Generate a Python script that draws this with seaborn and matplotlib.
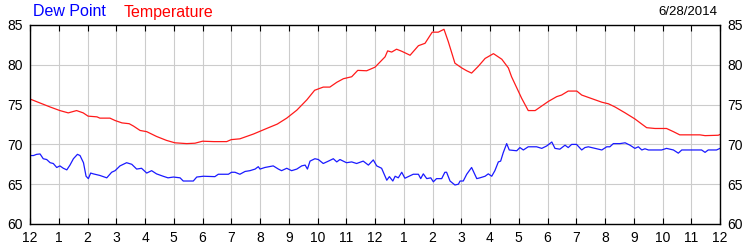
import matplotlib
matplotlib.use("Agg")
import matplotlib.pyplot as plt
import seaborn as sns
import pandas as pd

temp_hours = [0.0, 0.35, 0.7, 1.04, 1.33, 1.62, 1.85, 2.02, 2.33, 2.43, 2.78, 2.96, 3.2, 3.45,
              3.6, 3.83, 4.06, 4.4, 4.75, 5.04, 5.45, 5.74, 6.0, 6.4, 6.84, 7.0, 7.3, 7.77,
              8.23, 8.6, 8.93, 9.28, 9.63, 9.9, 10.2, 10.43, 10.67, 10.9, 11.19, 11.4, 11.71,
              12.0, 12.35, 12.44, 12.58, 12.75, 12.93, 13.22, 13.51, 13.74, 13.99, 14.2, 14.4,
              14.55, 14.78, 15.02, 15.19, 15.36, 15.59, 15.83, 16.12, 16.41, 16.64, 16.75,
              17.1, 17.33, 17.57, 18.03, 18.32, 18.49, 18.72, 19.02, 19.19, 19.54, 19.89,
              20.12, 20.35, 20.7, 21.04, 21.28, 21.45, 21.74, 22.14, 22.38, 22.6, 23.3, 23.48,
              23.94, 24.0]
temp_values = [75.7, 75.2, 74.7, 74.25, 73.96, 74.25, 73.96, 73.55, 73.46, 73.3, 73.3, 73.0, 72.7, 72.6,
               72.3, 71.75, 71.6, 71.0, 70.5, 70.2, 70.1, 70.15, 70.4, 70.35, 70.35, 70.6, 70.7, 71.3,
               72.0, 72.55, 73.3, 74.3, 75.6, 76.8, 77.2, 77.2, 77.8, 78.25, 78.5, 79.3, 79.25,
               79.7, 81.0, 81.75, 81.6, 81.96, 81.7, 81.2, 82.4, 82.7, 84.1, 84.1, 84.46,
               82.9, 80.2, 79.6, 79.25, 78.96, 79.8, 80.8, 81.4, 80.7, 79.6, 78.5,
               75.8, 74.25, 74.25, 75.4, 76.0, 76.2, 76.7, 76.7, 76.2, 75.75, 75.3,
               75.1, 74.7, 73.96, 73.2, 72.55, 72.1, 72.0, 72.0, 71.6, 71.2, 71.2, 71.1,
               71.15, 71.25]

dew_hours = [0.0, 0.12, 0.23, 0.35, 0.46, 0.58, 0.7, 0.81, 0.93, 1.04, 1.16, 1.28, 1.39, 1.51,
             1.65, 1.74, 1.86, 1.95, 2.03, 2.11, 2.2, 2.43, 2.67, 2.84, 2.96, 3.13, 3.36, 3.54,
             3.71, 3.88, 4.06, 4.23, 4.4, 4.63, 4.8, 4.99, 5.22, 5.33, 5.68, 5.8, 6.03, 6.43,
             6.55, 6.9, 7.01, 7.13, 7.3, 7.48, 7.65, 7.83, 7.94, 8.0, 8.17, 8.46, 8.64, 8.75,
             8.93, 9.1, 9.28, 9.45, 9.57, 9.65, 9.74, 9.91, 10.03, 10.2, 10.38, 10.55, 10.67,
             10.78, 11.01, 11.19, 11.36, 11.59, 11.77, 11.94, 12.06, 12.23, 12.41, 12.5, 12.62,
             12.7, 12.81, 12.93, 13.04, 13.33, 13.51, 13.59, 13.68, 13.8, 13.94, 14.03, 14.14,
             14.32, 14.43, 14.49, 14.61, 14.78, 14.9, 14.96, 15.07, 15.19, 15.36, 15.54, 15.65,
             15.83, 15.94, 16.06, 16.17, 16.29, 16.37, 16.46, 16.58, 16.67, 16.93, 17.04, 17.16,
             17.33, 17.62, 17.8, 17.97, 18.15, 18.26, 18.43, 18.61, 18.72, 18.84, 19.01, 19.19,
             19.3, 19.42, 19.65, 19.89, 20.06, 20.17, 20.29, 20.52, 20.7, 20.87, 21.04, 21.16,
             21.28, 21.39, 21.51, 21.97, 22.14, 22.38, 22.55, 22.67, 23.36, 23.48, 23.59, 23.88,
             24.0]
dew_values = [68.6, 68.6, 68.75, 68.8, 68.2, 68.1, 67.7, 67.6, 67.1, 67.3, 67.0, 66.8, 67.4, 68.2,
              68.75, 68.6, 67.7, 66.0, 65.7, 66.4, 66.3, 66.1, 65.8, 66.5, 66.7, 67.3, 67.7, 67.5,
              66.9, 67.0, 66.4, 66.7, 66.3, 66.0, 65.8, 65.9, 65.8, 65.4, 65.4, 65.9, 66.0, 65.95,
              66.25, 66.25, 66.5, 66.5, 66.25, 66.6, 66.7, 66.9, 67.2, 66.9, 67.1, 67.3, 66.9, 66.7,
              67.0, 66.7, 66.9, 67.3, 67.4, 66.9, 67.9, 68.2, 68.1, 67.6, 67.9, 68.2, 67.8,
              68.1, 67.7, 67.8, 67.6, 67.9, 67.4, 68.05, 67.3, 67.0, 65.5, 65.95, 65.4,
              66.0, 65.8, 66.5, 65.75, 66.25, 66.25, 65.7, 66.3, 65.7, 65.8, 65.3, 65.7,
              65.7, 66.5, 66.5, 65.4, 64.9, 65.0, 65.4, 65.4, 66.25, 67.1, 65.7, 65.8,
              66.0, 66.3, 66.0, 66.7, 67.8, 67.9, 68.95, 70.1, 69.3, 69.2, 69.6, 69.3,
              69.7, 69.7, 69.5, 69.8, 70.3, 69.5, 69.4, 69.9, 69.6, 70.0, 70.0, 69.3,
              69.6, 69.7, 69.5, 69.3, 69.7, 69.7, 70.1, 70.1, 70.2, 69.9, 69.5, 69.7,
              69.3, 69.45, 69.3, 69.3, 69.5, 69.3, 68.9, 69.3, 69.3, 69.0, 69.3, 69.3,
              69.5]

x_ticks = list(range(0, 25))
x_tick_labels = ["12", "1", "2", "3", "4", "5", "6", "7", "8", "9", "10", "11",
                 "12", "1", "2", "3", "4", "5", "6", "7", "8", "9", "10", "11", "12"]
y_ticks = [60, 65, 70, 75, 80, 85]
date_label = "6/28/2014"

sns.set_style("white")
plt.rcParams['font.family'] = ['Liberation Sans', 'DejaVu Sans']

temp_df = pd.DataFrame({"hour": temp_hours, "value": temp_values})
dew_df = pd.DataFrame({"hour": dew_hours, "value": dew_values})

fig = plt.figure(figsize=(7.5, 2.5), dpi=100)
ax = fig.add_axes([30 / 750, 1 - 224 / 250, 690 / 750, 199 / 250])

sns.lineplot(data=dew_df, x="hour", y="value", ax=ax, color="#1a1aff", linewidth=0.9)
sns.lineplot(data=temp_df, x="hour", y="value", ax=ax, color="#ff1a1a", linewidth=0.9)

ax.set_xlim(0, 24)
ax.set_ylim(60, 85)
ax.set_xticks(x_ticks)
ax.set_xticklabels(x_tick_labels)
ax.set_yticks(y_ticks)
ax.set_yticklabels([str(v) for v in y_ticks])
ax.set_xlabel("")
ax.set_ylabel("")

ax.grid(True, color="#cccccc", linewidth=0.8)
ax.set_axisbelow(True)
for s in ax.spines.values():
    s.set_color("black")
    s.set_linewidth(1.0)
    s.set_visible(True)

ax.tick_params(axis="x", direction="in", length=4, width=0.8, color="black",
               top=True, bottom=True, labelsize=10, pad=5, labelcolor="black")
ax.tick_params(axis="y", length=0, left=True, right=True, labelleft=True,
               labelright=True, labelsize=10, pad=5, labelcolor="black")

fig.text(33 / 750, 1 - 12 / 250, "Dew Point", color="#0000ff", fontsize=11.5,
         ha="left", va="center")
fig.text(124 / 750, 1 - 12 / 250, "Temperature", color="#ff0000", fontsize=11.5,
         ha="left", va="center")
fig.text(717 / 750, 1 - 12 / 250, date_label, color="black", fontsize=9.5,
         ha="right", va="center")

fig.savefig("out.png", dpi=100)
